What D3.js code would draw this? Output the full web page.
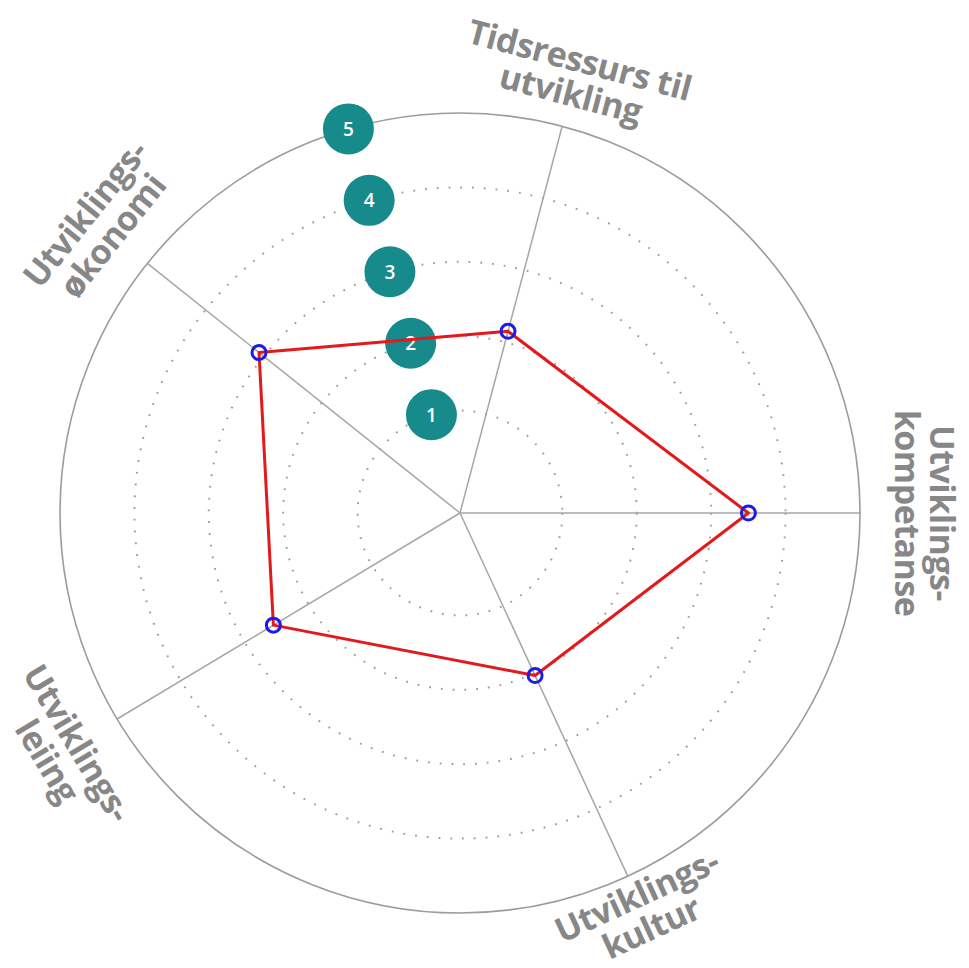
<!DOCTYPE html>
<html>
<head>
<meta charset="utf-8">
<script src="https://cdn.jsdelivr.net/npm/d3@7"></script>
<style>
  html, body { margin: 0; padding: 0; background: #fff; }
  svg { display: block; }
</style>
</head>
<body>
<div id="chart"></div>
<script>
// axes go clockwise, angle is degrees from 12 o'clock (the original is not evenly spaced)
const axisLabels = [
  ["Tidsressurs til", "utvikling"],
  ["Utviklings-", "kompetanse"],
  ["Utviklings-", "kultur"],
  ["Utviklings-", "leiing"],
  ["Utviklings-", "økonomi"]
];
const axisAngles = [14.8, 90, 155.2, 239, 308.6];
const scores = [2.15, 3.5, 2.03, 2.55, 3.08];
const ringLevels = [1, 2, 3, 4];
const badgeLevels = [1, 2, 3, 4, 5];
const badgeAngle = -16.2;

const width = 969, height = 968;
const cx = 460, cy = 513;
const rad = Math.PI / 180;
// how far out each label sits, tweaked by eye
const labelR = [452, 465, 438, 463, 463];
const lineGap = 35;

const svg = d3.select("#chart").append("svg")
  .attr("width", width)
  .attr("height", height);

// ring 1 sits at ~100px, ring 5 is the outer circle
const r = d3.scaleLinear().domain([0, 5]).range([28, 400]);

const pt = (a, radius) => [cx + radius * Math.sin(a * rad), cy - radius * Math.cos(a * rad)];

const g = svg.append("g");

g.selectAll(".ring")
  .data(ringLevels)
  .enter()
  .append("circle")
  .attr("class", "ring")
  .attr("cx", cx)
  .attr("cy", cy)
  .attr("r", d => r(d))
  .attr("fill", "none")
  .attr("stroke", "#9e9e9e")
  .attr("stroke-width", 2)
  .attr("stroke-dasharray", "1.8,10");

g.selectAll(".spoke")
  .data(axisAngles)
  .enter()
  .append("line")
  .attr("class", "spoke")
  .attr("x1", cx)
  .attr("y1", cy)
  .attr("x2", d => pt(d, r(5))[0])
  .attr("y2", d => pt(d, r(5))[1])
  .attr("stroke", "#a6a6a6")
  .attr("stroke-width", 1.5);

g.append("circle")
  .attr("cx", cx)
  .attr("cy", cy)
  .attr("r", r(5))
  .attr("fill", "none")
  .attr("stroke", "#9c9c9c")
  .attr("stroke-width", 1.6);

// numbered badges
const badges = g.selectAll(".badge")
  .data(badgeLevels)
  .enter()
  .append("g")
  .attr("class", "badge")
  .attr("transform", d => `translate(${pt(badgeAngle, r(d))})`);

badges.append("circle")
  .attr("r", 25.5)
  .attr("fill", "#178b8b");

badges.append("text")
  .attr("text-anchor", "middle")
  .attr("dy", "0.36em")
  .attr("fill", "#fff")
  .attr("font-family", "Open Sans, sans-serif")
  .attr("font-weight", 600)
  .attr("font-size", "19px")
  .text(d => d);

// axis labels, rotated along the circle, flipped on the bottom so they read right way up
const labels = g.selectAll(".label")
  .data(axisAngles.map((a, i) => ({ a, lines: axisLabels[i], lr: labelR[i] })))
  .enter()
  .append("g")
  .attr("class", "label")
  .attr("transform", d => {
    const rot = (d.a > 90 && d.a < 270) ? d.a - 180 : d.a;
    return `translate(${pt(d.a, d.lr)}) rotate(${rot})`;
  });

labels.selectAll("text")
  .data(d => d.lines)
  .enter()
  .append("text")
  .attr("y", (d, i) => (i - 0.5) * lineGap)
  .attr("text-anchor", "middle")
  .attr("dominant-baseline", "central")
  .attr("fill", "#878787")
  .attr("font-family", "Open Sans, sans-serif")
  .attr("font-weight", "bold")
  .attr("font-size", "34px")
  .attr("letter-spacing", "-0.5px")
  .text(d => d);

// the hand drawn score line
const line = d3.lineRadial()
  .angle((d, i) => axisAngles[i] * rad)
  .radius(d => r(d))
  .curve(d3.curveLinearClosed);

g.append("path")
  .datum(scores)
  .attr("transform", `translate(${cx},${cy})`)
  .attr("d", line)
  .attr("fill", "none")
  .attr("stroke", "#e3191c")
  .attr("stroke-width", 3)
  .attr("stroke-linejoin", "round");

g.selectAll(".mark")
  .data(scores)
  .enter()
  .append("circle")
  .attr("class", "mark")
  .attr("cx", (d, i) => pt(axisAngles[i], r(d))[0])
  .attr("cy", (d, i) => pt(axisAngles[i], r(d))[1])
  .attr("r", 7)
  .attr("fill", "none")
  .attr("stroke", "#1c1ce6")
  .attr("stroke-width", 3);
</script>
</body>
</html>
